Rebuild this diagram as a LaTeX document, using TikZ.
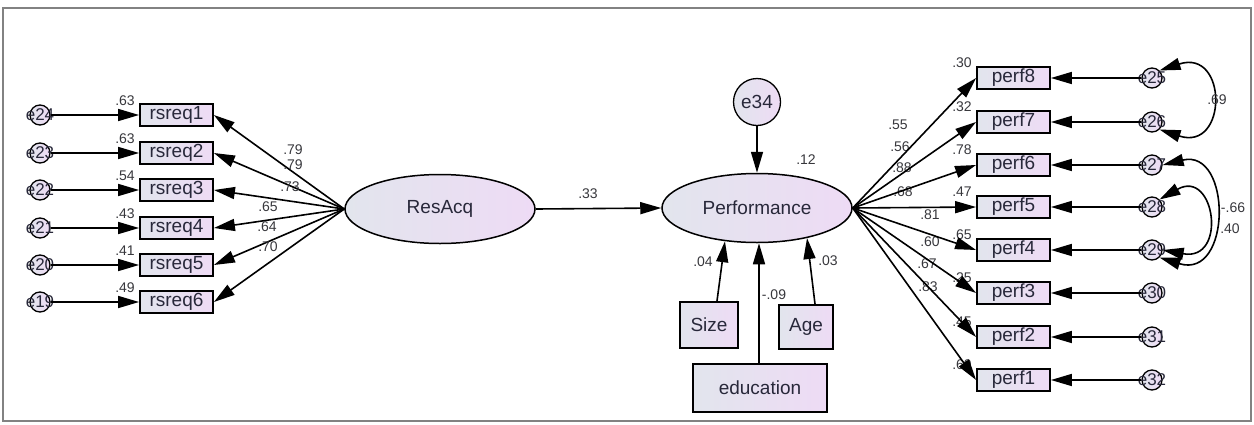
\documentclass[tikz,border=0pt]{standalone}
\usepackage{fontspec}
\setmainfont{Liberation Sans}
\usetikzlibrary{arrows.meta,shapes.geometric}
\definecolor{fillL}{RGB}{226,229,237}
\definecolor{fillR}{RGB}{238,219,245}
\definecolor{txt}{RGB}{40,40,58}
\definecolor{numc}{RGB}{55,55,60}
\definecolor{framec}{RGB}{130,130,130}
\tikzset{
 obs/.style={draw=black, line width=1.8pt, rectangle, minimum width=73pt, minimum height=22pt, inner sep=0pt, left color=fillL, right color=fillR, text=txt, font=\fontsize{19}{19}\selectfont},
 cov3/.style={draw=black, line width=2pt, rectangle, inner sep=0pt, left color=fillL, right color=fillR, text=txt, font=\fontsize{19}{19}\selectfont},
 lat/.style={draw=black, line width=1.5pt, ellipse, minimum width=190pt, minimum height=69pt, inner sep=0pt, left color=fillL, right color=fillR, text=txt, font=\fontsize{19}{19}\selectfont},
 err/.style={draw=black, line width=1.3pt, circle, minimum size=20pt, inner sep=0pt, left color=fillL, right color=fillR},
 elab/.style={text=txt, font=\fontsize{17}{17}\selectfont, inner sep=0pt},
 num/.style={text=numc, font=\fontsize{14}{14}\selectfont, inner sep=0pt},
 pth/.style={draw, line width=1.6pt, -{Triangle[length=21pt,width=12pt]}},
 covar/.style={draw, line width=1.6pt, {Triangle[length=21pt,width=12pt]}-{Triangle[length=21pt,width=12pt]}},
}
\begin{document}
\begin{tikzpicture}[x=1pt,y=-1pt]
\useasboundingbox (0,0) rectangle (1254,424);
\draw[framec, line width=1.5pt] (3,8) rectangle (1251,421);

% latent variables
\node[lat] (Res) at (440,209) {ResAcq};
\node[lat] (Perf) at (757,208) {Performance};
\node[err, minimum size=47pt, font=\fontsize{19}{19}\selectfont, text=txt] (e34) at (757,102) {e34};

% rsreq indicators
\foreach \i/\y/\e/\r/\l/\lx/\ly in {1/115/24/.63/.79/293/150, 2/153/23/.63/.79/293/165, 3/190/22/.54/.73/290/187, 4/228/21/.43/.65/268/207, 5/265/20/.41/.64/267/227, 6/302/19/.49/.70/268/247}{
  \node[obs] (r\i) at (176.5,\y) {rsreq\i};
  \node[err, label={[elab]center:e\e}] (el\i) at (40,\y) {};
  \draw[pth] (el\i.east) -- (r\i.west);
  \draw[pth] (Res.west) -- (r\i.east);
  \node[num] (rr\i) at (125,\y-14) {\r};
  \node[num] (rl\i) at (\lx,\ly) {\l};
}

% perf indicators
\foreach \i/\y/\e/\r/\l/\lx/\ly in {8/78/25/.30/.55/898/125, 7/122/26/.32/.56/900/147, 6/165/27/.78/.88/902/168, 5/207/28/.47/.68/903/192, 4/250/29/.65/.81/930/215, 3/293/30/.25/.60/930/242, 2/337/31/.45/.67/927/264, 1/380/32/.69/.83/928/287}{
  \node[obs] (p\i) at (1013.5,\y) {perf\i};
  \node[err, label={[elab]center:e\e}] (ep\i) at (1152,\y) {};
  \draw[pth] (ep\i.west) -- (p\i.east);
  \node[num] (pr\i) at (962,\y-15) {\r};
  \node[num] (pl\i) at (\lx,\ly) {\l};
}
\foreach \i in {8,7,6,5,4,3,2,1}{
  \draw[pth] (Perf.east) -- (p\i.west);
}

% covariates
\node[cov3, minimum width=58pt, minimum height=46pt] (Size) at (709,325) {Size};
\node[cov3, minimum width=54pt, minimum height=44pt] (Age) at (806,327) {Age};
\node[cov3, minimum width=134pt, minimum height=48pt] (edu) at (760,388) {education};
\draw[pth] ([xshift=8pt]Size.north) -- (Perf.226);
\draw[pth] ([xshift=9pt]Age.north) -- (Perf.-31);
\draw[pth] ([xshift=-1pt]edu.north) -- ([xshift=-1pt]edu.north |- Perf.south);
\node[num] (n04) at (703,262) {.04};
\node[num] (n09) at (774,295) {-.09};
\node[num] (n03) at (828,261) {.03};

% structural paths
\draw[pth] (Res.east) -- (Perf.west);
\node[num] (n33) at (588,194) {.33};
\draw[pth] (e34.south) -- (Perf.north);
\node[num] (n12) at (806,160) {.12};

% covariances
\draw[covar] (ep8.north east) .. controls (1228,48) and (1228,152) .. (ep7.south east);
\node[num] (c69) at (1217,100) {.69};
\draw[covar] (ep6.east) .. controls (1232,148) and (1232,280) .. (ep4.south east);
\draw[covar] (ep5.north east) .. controls (1215,168) and (1228,262) .. (ep4.east);
\node[num] (c66) at (1233,208) {-.66};
\node[num] (c40) at (1230,229) {.40};
\end{tikzpicture}
\end{document}
